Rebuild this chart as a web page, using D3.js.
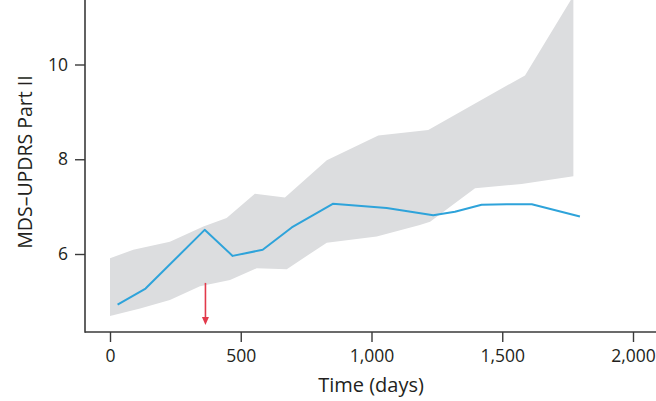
<!DOCTYPE html>
<html>
<head>
<meta charset="utf-8">
<script src="https://cdn.jsdelivr.net/npm/d3@7"></script>
<style>
  html, body { margin: 0; padding: 0; background: #fff; }
  svg { display: block; }
  text { font-family: "Open Sans", "Noto Sans", sans-serif; fill: #231f20; }
</style>
</head>
<body>
<svg id="chart" width="656" height="401"></svg>
<script>
// Mean score over time
const lineDays   = [29, 136, 362, 469, 584, 695, 852, 1058, 1236, 1319, 1421, 1517, 1613, 1797];
const lineValues = [4.93, 5.27, 6.51, 5.96, 6.09, 6.56, 7.06, 6.97, 6.82, 6.89, 7.04, 7.05, 7.05, 6.79];

// Upper and lower edges of the shaded interval
const upperDays   = [0, 89, 229, 357, 446, 554, 669, 829, 1026, 1217, 1587, 1772];
const upperValues = [5.91, 6.09, 6.26, 6.58, 6.76, 7.27, 7.19, 7.98, 8.50, 8.62, 9.77, 11.45];
const lowerDays   = [0, 115, 229, 344, 459, 561, 676, 829, 1020, 1185, 1224, 1396, 1574, 1772];
const lowerValues = [4.69, 4.85, 5.03, 5.32, 5.45, 5.70, 5.68, 6.24, 6.37, 6.61, 6.68, 7.39, 7.48, 7.64];

// Event marker
const markerDay = 365;
const markerFrom = 5.39;
const markerTo = 4.50;

const xTicks = [0, 500, 1000, 1500, 2000];
const yTicks = [6, 8, 10];
const xTitle = "Time (days)";
const yTitle = "MDS\u2013UPDRS Part II";

const svg = d3.select("#chart");
const plotLeft = 85, plotRight = 656, plotTop = 0, plotBottom = 332;

const x = d3.scaleLinear().domain([0, 2000]).range([110, 633]);
const y = d3.scaleLinear().domain([6, 10]).range([254, 64.5]);

// Shaded interval
const band = upperDays.map((d, i) => [d, upperValues[i]])
  .concat(lowerDays.map((d, i) => [d, lowerValues[i]]).reverse());
svg.append("clipPath").attr("id", "plotClip")
  .append("rect").attr("x", plotLeft).attr("y", plotTop)
  .attr("width", plotRight - plotLeft).attr("height", plotBottom - plotTop);
svg.append("path")
  .datum(band)
  .attr("clip-path", "url(#plotClip)")
  .attr("fill", "#dcdddf")
  .attr("d", d3.line().x(d => x(d[0])).y(d => y(d[1])));

// Mean line
svg.append("path")
  .datum(lineDays.map((d, i) => [d, lineValues[i]]))
  .attr("fill", "none")
  .attr("stroke", "#2ea3da")
  .attr("stroke-width", 2)
  .attr("stroke-linejoin", "round")
  .attr("d", d3.line().x(d => x(d[0])).y(d => y(d[1])));

// Red arrow
const ax = x(markerDay);
svg.append("line")
  .attr("x1", ax).attr("x2", ax)
  .attr("y1", y(markerFrom)).attr("y2", y(markerTo) - 6)
  .attr("stroke", "#e2394b").attr("stroke-width", 1.6);
svg.append("path")
  .attr("fill", "#e2394b")
  .attr("d", `M${ax - 3.5},${y(markerTo) - 8} L${ax + 3.5},${y(markerTo) - 8} L${ax},${y(markerTo)} Z`);

// Axes
const xAxis = d3.axisBottom(x).tickValues(xTicks).tickFormat(d3.format(",")).tickSize(10).tickPadding(8);
const gx = svg.append("g").attr("transform", `translate(0,${plotBottom})`).call(xAxis);
gx.select(".domain").remove();
gx.append("line").attr("x1", plotLeft).attr("x2", plotRight).attr("stroke", "#3a3a3a").attr("stroke-width", 1.6);
gx.selectAll(".tick line").attr("stroke", "#3a3a3a").attr("stroke-width", 1.4);
gx.selectAll(".tick text").attr("font-size", 17.5).style("fill", "#231f20");

const yAxis = d3.axisLeft(y).tickValues(yTicks).tickFormat(d3.format("d")).tickSize(10).tickPadding(7);
const gy = svg.append("g").attr("transform", `translate(${plotLeft},0)`).call(yAxis);
gy.select(".domain").remove();
gy.append("line").attr("y1", plotTop).attr("y2", plotBottom + 0.8).attr("stroke", "#3a3a3a").attr("stroke-width", 1.6);
gy.selectAll(".tick line").attr("stroke", "#3a3a3a").attr("stroke-width", 1.4);
gy.selectAll(".tick text").attr("font-size", 17.5).style("fill", "#231f20");

// Axis titles
svg.append("text")
  .attr("x", 371).attr("y", 392)
  .attr("text-anchor", "middle")
  .attr("font-size", 20)
  .text(xTitle);
svg.append("text")
  .attr("transform", "translate(32,162) rotate(-90)")
  .attr("text-anchor", "middle")
  .attr("font-size", 19.5)
  .text(yTitle);
</script>
</body>
</html>
